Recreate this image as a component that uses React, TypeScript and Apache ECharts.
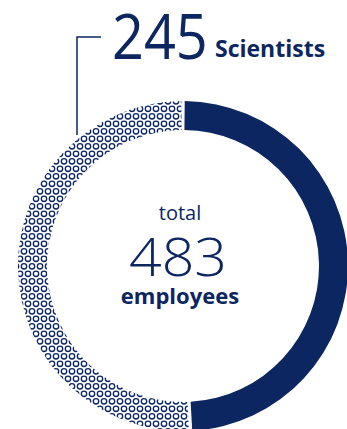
import React, { useEffect, useRef } from "react";
import * as echarts from "echarts";

const NAVY = "#0b2660";
const categories = ["Other employees", "Scientists"];
const values = [238, 245];
const totalLabel = "total";
const totalValue = "483";
const totalUnit = "employees";
const calloutValue = "245";
const calloutLabel = "Scientists";

function makePattern(): HTMLCanvasElement {
  const c = document.createElement("canvas");
  c.width = 8;
  c.height = 15;
  const ctx = c.getContext("2d")!;
  ctx.strokeStyle = NAVY;
  ctx.lineWidth = 1.35;
  const pts = [
    [4, 3.75],
    [0, 11.25],
    [8, 11.25],
  ];
  for (const [x, y] of pts) {
    ctx.beginPath();
    ctx.arc(x, y, 2.7, 0, Math.PI * 2);
    ctx.stroke();
  }
  return c;
}

export default function App() {
  const ref = useRef<HTMLDivElement>(null);
  useEffect(() => {
    if (!ref.current) return;
    const chart = echarts.init(ref.current, null, { renderer: "svg" });
    const pattern = makePattern();
    const cx = 183;
    const cy = 266;
    chart.setOption({
      animation: false,
      backgroundColor: "#ffffff",
      series: [
        {
          type: "pie",
          center: [cx, cy],
          radius: [136, 165],
          startAngle: 90,
          clockwise: true,
          padAngle: 1.2,
          label: { show: false },
          labelLine: { show: false },
          silent: true,
          data: [
            { name: categories[0], value: values[0], itemStyle: { color: NAVY } },
            {
              name: categories[1],
              value: values[1],
              itemStyle: {
                color: { image: pattern, repeat: "repeat", imageWidth: 8, imageHeight: 15 } as any,
              },
            },
          ],
        },
      ],
      graphic: [
        {
          type: "polyline",
          shape: { points: [[101, 37], [77, 37], [77, 135]] },
          style: { stroke: NAVY, lineWidth: 1.5, fill: null },
        },
        {
          type: "text",
          x: 112,
          y: 35,
          scaleX: 0.9,
          style: {
            text: calloutValue,
            fill: NAVY,
            font: '62px "Open Sans", sans-serif',
            textAlign: "left",
            textVerticalAlign: "middle",
          },
        },
        {
          type: "text",
          x: 215,
          y: 48,
          style: {
            text: calloutLabel,
            fill: NAVY,
            font: 'bold 23px "Open Sans", sans-serif',
            textAlign: "left",
            textVerticalAlign: "middle",
          },
        },
        {
          type: "text",
          x: 180,
          y: 212,
          style: {
            text: totalLabel,
            fill: NAVY,
            font: '20px "Open Sans", sans-serif',
            textAlign: "center",
            textVerticalAlign: "middle",
          },
        },
        {
          type: "text",
          x: 178,
          y: 255,
          scaleX: 1.06,
          style: {
            text: totalValue,
            fill: NAVY,
            font: '300 54px "Open Sans", sans-serif',
            textAlign: "center",
            textVerticalAlign: "middle",
          },
        },
        {
          type: "text",
          x: 180,
          y: 295,
          style: {
            text: totalUnit,
            fill: NAVY,
            font: 'bold 22px "Open Sans", sans-serif',
            textAlign: "center",
            textVerticalAlign: "middle",
          },
        },
      ],
    });
    return () => chart.dispose();
  }, []);
  return (
    <div
      ref={ref}
      style={{ position: "fixed", left: 0, top: 0, width: 347, height: 429 }}
    />
  );
}
